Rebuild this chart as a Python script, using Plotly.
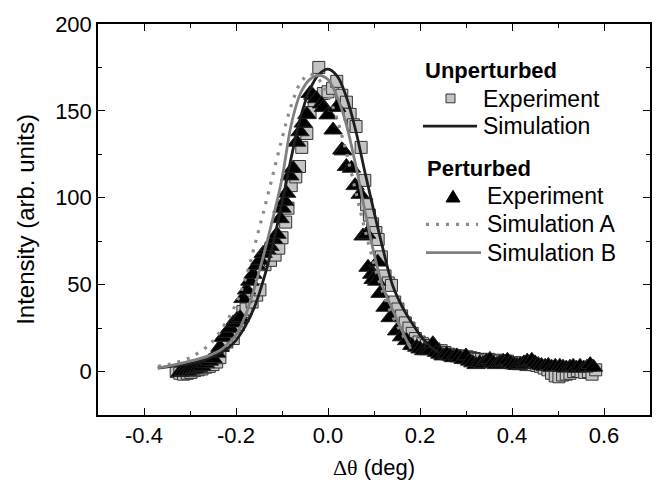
import plotly.graph_objects as go

# ---------------- data ----------------
# Unperturbed experiment (grey squares)
unp_exp_x = [-0.330, -0.322, -0.314, -0.306, -0.298, -0.290, -0.282, -0.274, -0.266, -0.258,
             -0.250, -0.242, -0.235, -0.228, -0.220, -0.206, -0.195, -0.185, -0.178, -0.165,
             -0.155, -0.148, -0.137, -0.125, -0.115, -0.107, -0.100, -0.092, -0.087, -0.080,
             -0.070, -0.062, -0.057, -0.046, -0.039, -0.030, -0.020, -0.010, 0.000, 0.010,
             0.019, 0.030, 0.040, 0.048, 0.055, 0.061, 0.072, 0.080, 0.084, 0.090,
             0.097, 0.104, 0.109, 0.116, 0.124, 0.131, 0.138, 0.145, 0.152, 0.160,
             0.168, 0.176, 0.183, 0.190, 0.198, 0.206, 0.214, 0.222, 0.230, 0.238,
             0.246, 0.254, 0.262, 0.270, 0.278, 0.286, 0.294, 0.302, 0.310, 0.318,
             0.326, 0.334, 0.342, 0.350, 0.358, 0.366, 0.374, 0.382, 0.390, 0.398,
             0.406, 0.414, 0.422, 0.430, 0.438, 0.446, 0.454, 0.462, 0.470, 0.478,
             0.486, 0.494, 0.502, 0.510, 0.518, 0.526, 0.534, 0.542, 0.550, 0.558,
             0.566, 0.574, 0.582]
unp_exp_y = [0, -1, -1.5, -1, -0.5, 0.5, 1, 1.5, 2.5, 3,
             4, 5.5, 8, 15, 17, 19, 27, 34.6, 36, 40,
             44, 47, 61.5, 64, 67, 71, 77, 86, 94, 107,
             112, 118, 129, 137, 149, 156, 175, 160, 161, 163,
             167, 159, 155, 148, 142, 141, 129, 110, 96, 90,
             85, 80, 76, 66, 55, 51, 49.6, 40, 36, 32,
             28, 25, 22, 19, 17, 16, 15, 14, 13, 12,
             12, 11, 10, 9.5, 9, 9, 8, 8.5, 8, 7.5,
             7, 7, 6.5, 7, 6, 6.5, 6, 5.5, 6, 5,
             5, 4.5, 5, 4, 4.5, 4, 3.5, 3, 2, 1,
             -1, -2.5, -3, -2, -1.5, -1, 0, 0.5, 0, -0.5,
             0, -1.5, 1]

# Perturbed experiment (black triangles)
per_exp_x = [-0.322, -0.314, -0.306, -0.298, -0.290, -0.282, -0.274, -0.266, -0.258, -0.250,
             -0.242, -0.235, -0.228, -0.220, -0.213, -0.206, -0.198, -0.191, -0.185, -0.177,
             -0.170, -0.163, -0.155, -0.148, -0.141, -0.133, -0.126, -0.118, -0.111, -0.104,
             -0.100, -0.094, -0.090, -0.083, -0.076, -0.068, -0.061, -0.054, -0.046, -0.039,
             -0.033, -0.025, -0.014, -0.010, 0.000, 0.011, 0.019, 0.030, 0.033, 0.040,
             0.051, 0.059, 0.070, 0.076, 0.084, 0.087, 0.095, 0.098, 0.106, 0.108,
             0.113, 0.124, 0.135, 0.149, 0.160, 0.171, 0.182, 0.193, 0.200, 0.208,
             0.215, 0.222, 0.228, 0.236, 0.243, 0.250, 0.258, 0.265, 0.272, 0.280,
             0.287, 0.294, 0.300, 0.308, 0.315, 0.322, 0.330, 0.337, 0.344, 0.352,
             0.359, 0.366, 0.374, 0.381, 0.390, 0.397, 0.404, 0.411, 0.418, 0.426,
             0.433, 0.443, 0.450, 0.457, 0.464, 0.472, 0.479, 0.486, 0.494, 0.504,
             0.511, 0.518, 0.526, 0.533, 0.540, 0.548, 0.556, 0.563, 0.570, 0.577]
per_exp_y = [-0.6, 0, 0.2, 1, 1.5, 2.2, 3, 4.5, 6, 7.5,
             10.6, 14, 19.7, 22, 25, 28, 30, 31, 42, 47,
             52, 56, 61, 64, 68, 70, 72, 76, 79, 88,
             94, 98, 102.6, 112.6, 117, 132, 138, 143, 148, 160,
             159, 157, 154, 152, 147.7, 139, 152, 127.6, 127, 118,
             117, 107, 102, 78, 79, 60, 56, 53, 52, 63,
             45, 37, 31, 23.4, 20, 17.8, 15, 14, 13, 12,
             12, 12, 16, 11, 10, 9, 10, 9, 8, 9,
             8, 7, 9, 6, 5, 4, 5, 4.5, 6, 7,
             5, 4, 5, 6, 6.5, 5, 4, 3.5, 4, 5,
             6, 6.5, 5, 4, 3.5, 3, 3.5, 2.5, 3, 3,
             2.5, 2, 2.5, 3, 2, 3, 2, 2.5, 4, 2.5]

# Unperturbed simulation (black line)
unp_sim_x = [-0.37, -0.34, -0.30, -0.26, -0.22, -0.20, -0.18, -0.16, -0.14, -0.12,
             -0.10, -0.08, -0.06, -0.04, -0.02, 0.00, 0.02, 0.04, 0.06, 0.08,
             0.10, 0.12, 0.14, 0.16, 0.18, 0.20, 0.22, 0.24]
unp_sim_y = [2, 3, 4.5, 7.5, 13, 18, 26, 37, 53, 73,
             97, 123, 146, 162, 171, 174, 170, 158, 139, 115,
             92, 70, 50, 38, 29, 21, 15, 11]

# Perturbed simulation A (grey dotted)
per_simA_x = [-0.37, -0.34, -0.30, -0.26, -0.24, -0.22, -0.20, -0.18, -0.16, -0.14,
              -0.12, -0.10, -0.08, -0.06, -0.04, -0.02, 0.00, 0.02, 0.04, 0.06,
              0.08, 0.10, 0.12, 0.14, 0.16, 0.18]
per_simA_y = [3, 4.5, 8, 15, 21, 29, 39, 53, 72, 92,
              113, 134, 153, 166, 171, 168, 159, 145, 126, 104,
              82, 62, 45, 32, 22, 14]

# Perturbed simulation B (grey solid)
per_simB_x = [-0.37, -0.34, -0.30, -0.26, -0.23, -0.20, -0.18, -0.16, -0.14, -0.12,
              -0.10, -0.08, -0.06, -0.04, -0.02, 0.00, 0.02, 0.04, 0.06, 0.08,
              0.10, 0.12, 0.14, 0.16, 0.18]
per_simB_y = [2, 3.5, 6, 9, 13, 21, 32, 48, 67, 88,
              111, 142, 160, 168, 170.5, 168, 158, 142, 119, 93,
              68, 48, 36, 24, 13]

x_tickvals = [-0.4, -0.2, 0.0, 0.2, 0.4, 0.6]
x_ticktext = ["-0.4", "-0.2", "0.0", "0.2", "0.4", "0.6"]
y_tickvals = [0, 50, 100, 150, 200]
y_ticktext = ["0", "50", "100", "150", "200"]

FONT = "Liberation Sans, Arial, sans-serif"
DOTDASH = "3px,7px"

fig = go.Figure()
fig.add_trace(go.Scatter(x=unp_exp_x, y=unp_exp_y, mode="markers", showlegend=False,
                         marker=dict(symbol="square", size=12, color="#c4c4c4",
                                     line=dict(color="#333333", width=1))))
fig.add_trace(go.Scatter(x=per_exp_x, y=per_exp_y, mode="markers", showlegend=False,
                         marker=dict(symbol="triangle-up", size=16, color="#000000",
                                     line=dict(color="#222222", width=1))))
fig.add_trace(go.Scatter(x=unp_sim_x, y=unp_sim_y, mode="lines", showlegend=False,
                         line=dict(color="#1e1e1e", width=2.8, shape="spline")))
fig.add_trace(go.Scatter(x=per_simA_x, y=per_simA_y, mode="lines", showlegend=False,
                         line=dict(color="#8c8c8c", width=3.2, dash=DOTDASH, shape="spline")))
fig.add_trace(go.Scatter(x=per_simB_x, y=per_simB_y, mode="lines", showlegend=False,
                         line=dict(color="#808080", width=2.8, shape="spline")))

# ---- manual legend (pixel positions converted to paper coords) ----
W, H = 666, 495
L, R, T, B = 98, 16, 13, 80
pw, ph = W - L - R, H - T - B


def px(x):
    return (x - L) / pw


def py(y):
    return 1 - (y - T) / ph


ann = []
def txt(x, y, s, bold=False, size=23):
    ann.append(dict(x=px(x), y=py(y), xref="paper", yref="paper", text=("<b>%s</b>" % s if bold else s),
                    showarrow=False, xanchor="left", yanchor="middle",
                    font=dict(family=FONT, size=size, color="black")))

txt(423, 61, "Unperturbed", True, 22)
txt(481, 90, "Experiment")
txt(481, 118, "Simulation")
txt(425, 162, "Perturbed", True, 22)
txt(485, 190, "Experiment")
txt(485, 219, "Simulation A")
txt(485, 248, "Simulation B")

shapes = []
# square symbol
shapes.append(dict(type="rect", xref="paper", yref="paper",
                   x0=px(446), x1=px(455), y0=py(94), y1=py(85),
                   fillcolor="#c4c4c4", line=dict(color="#333333", width=1)))
# simulation line
shapes.append(dict(type="line", xref="paper", yref="paper", x0=px(423), x1=px(477),
                   y0=py(118), y1=py(118), line=dict(color="#1e1e1e", width=2.8)))
# triangle symbol
shapes.append(dict(type="path", xref="paper", yref="paper",
                   path="M %f %f L %f %f L %f %f Z" % (px(446), py(196), px(460), py(196), px(453), py(184)),
                   fillcolor="#000000", line=dict(color="#000000", width=1)))
shapes.append(dict(type="line", xref="paper", yref="paper", x0=px(426), x1=px(478),
                   y0=py(219), y1=py(219), line=dict(color="#8c8c8c", width=3.2, dash=DOTDASH)))
shapes.append(dict(type="line", xref="paper", yref="paper", x0=px(426), x1=px(481),
                   y0=py(248), y1=py(248), line=dict(color="#808080", width=2.8)))

axis_common = dict(showline=True, linecolor="black", linewidth=1.5, mirror="ticks",
                   ticks="inside", ticklen=7, tickwidth=1.3, tickcolor="black",
                   showgrid=False, zeroline=False,
                   tickfont=dict(family=FONT, size=22, color="black"))

fig.update_layout(
    width=W, height=H, margin=dict(l=L, r=R, t=T, b=B),
    paper_bgcolor="white", plot_bgcolor="white",
    annotations=ann, shapes=shapes,
    xaxis=dict(range=[-0.5, 0.7], tickvals=x_tickvals, ticktext=x_ticktext,
               minor=dict(ticks="inside", ticklen=4, tickwidth=1.1, tickcolor="black", dtick=0.1, tick0=0),
               title=dict(text="<span style='font-family:Liberation Serif'>Δθ</span> (deg)",
                          font=dict(family=FONT, size=22, color="black"), standoff=12),
               **axis_common),
    yaxis=dict(range=[-25, 200], tickvals=y_tickvals, ticktext=y_ticktext,
               minor=dict(ticks="inside", ticklen=4, tickwidth=1.1, tickcolor="black", dtick=25, tick0=0),
               title=dict(text="Intensity (arb. units)",
                          font=dict(family=FONT, size=24, color="black"), standoff=14),
               **axis_common),
)

fig.write_html("out.html")
